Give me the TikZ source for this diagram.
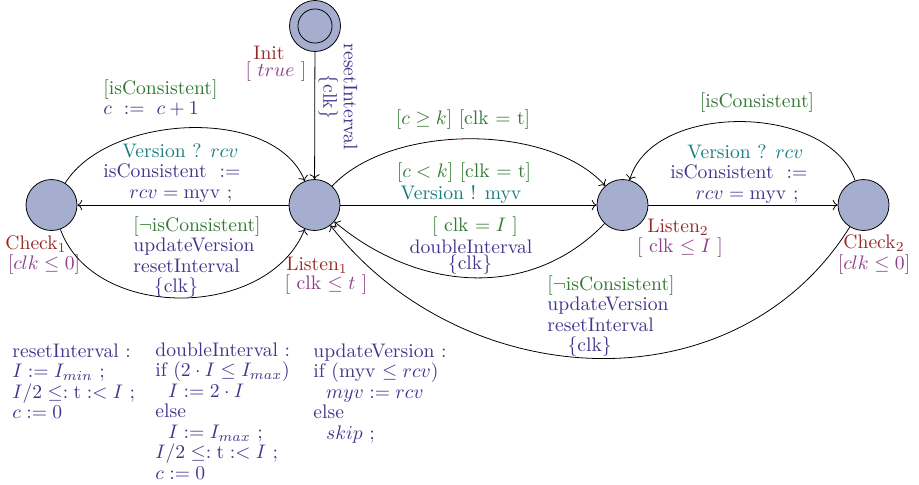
\documentclass[tikz,border=0pt]{standalone}
\usetikzlibrary{arrows.meta}
\definecolor{locfill}{RGB}{166,174,207}
\definecolor{locname}{RGB}{150,40,40}
\definecolor{invar}{RGB}{140,60,140}
\definecolor{guard}{RGB}{50,120,50}
\definecolor{sync}{RGB}{25,125,125}
\definecolor{upd}{RGB}{70,50,140}
\begin{document}
\begin{tikzpicture}[x=0.51pt,y=0.51pt,
  loc/.style={circle,draw,fill=locfill,minimum size=26pt,inner sep=0pt},
  edge/.style={->},
  lab/.style={inner sep=0pt,font=\fontsize{10}{10.5}\selectfont},
  blk/.style={lab,align=left,anchor=north west},
  nm/.style={lab,text=locname},
  inv/.style={lab,text=invar},
  grd/.style={lab,text=guard},
  syn/.style={lab,text=sync},
  up/.style={lab,text=upd}]
\useasboundingbox (0,0) rectangle (919,-484);
% locations
\node[loc] (init) at (315,-26) {};
\node[draw,circle,minimum size=17.4pt,inner sep=0pt] (initin) at (init) {};
\node[loc] (c1) at (51.5,-205) {};
\node[loc] (l1) at (314.5,-205) {};
\node[loc] (l2) at (622.5,-205) {};
\node[loc] (c2) at (863.5,-205) {};
% location labels
\node[nm] (initname) at (269,-53) {Init};
\node[inv] (initinv) at (276,-72) {[ $true$ ]};
\node[nm] (c1name) at (36,-244) {Check$_1$};
\node[inv] (c1inv) at (44,-265) {[$clk \leq 0$]};
\node[nm] (l1name) at (317,-265) {Listen$_1$};
\node[inv] (l1inv) at (326,-285) {[ clk $\leq t$ ]};
\node[nm] (l2name) at (678,-227) {Listen$_2$};
\node[inv] (l2inv) at (680,-248) {[ clk $\leq I$ ]};
\node[nm] (c2name) at (874,-243) {Check$_2$};
\node[inv] (c2inv) at (874,-265) {[$clk \leq 0$]};
% edges
\draw[edge] (init) -- (l1);
\draw[edge] (l1) -- (c1);
\draw[edge] (c1) to[out=58,in=112,looseness=0.87] (l1);
\draw[edge] (c1) to[out=-70,in=-112,looseness=1.03] (l1);
\draw[edge] (l1) to[out=47,in=132,looseness=0.8] (l2);
\draw[edge] (l1) -- (l2);
\draw[edge] (l2) to[out=-134,in=-40,looseness=1.02] (l1);
\draw[edge] (l2) -- (c2);
\draw[edge] (c2) to[out=109,in=74,looseness=0.93] (l2);
\draw[edge] (c2) to[out=-122,in=-52,looseness=1.06] (l1);
% edge labels
\node[up,align=center,rotate=-90] (initlab) at (338,-97) {resetInterval\\\{clk\}};
\node[blk,text=upd] (c1top) at (103,-79) {\textcolor{guard}{[isConsistent]}\\$c\ :=\ c+1$};
\node[blk,text=upd] (c1mid) at (103,-143) {\hspace*{9.7pt}\textcolor{sync}{Version ? $rcv$}\\isConsistent\ \ $:=$\\\hspace*{13.3pt}$rcv = \mathrm{myv}$ ;};
\node[blk,text=upd] (c1bot) at (133,-216) {\textcolor{guard}{[$\neg$isConsistent]}\\updateVersion\\resetInterval\\\hspace*{10.5pt}\{clk\}};
\node[grd] (l12top) at (463,-120) {[$c \geq k$] [clk $=$ t]};
\node[grd] (l12mid) at (464,-173) {[$c < k$] [clk $=$ t]};
\node[syn] (l12sync) at (461,-194) {Version ! myv};
\node[grd] (l21g) at (475,-227) {[ clk $= I$ ]};
\node[up] (l21u) at (471,-247) {doubleInterval};
\node[up] (l21r) at (470,-265) {\{clk\}};
\node[grd] (c2top) at (757,-103) {[isConsistent]};
\node[blk,text=upd] (l2mid) at (670,-144) {\hspace*{8.7pt}\textcolor{sync}{Version ? $rcv$}\\isConsistent\ \ $:=$\\\hspace*{12.8pt}$rcv = \mathrm{myv}$ ;};
\node[blk,text=upd] (c2bot) at (547,-275) {\textcolor{guard}{[$\neg$isConsistent]}\\updateVersion\\resetInterval\\\hspace*{10.3pt}\{clk\}};
% function blocks
\node[blk,text=upd] (fri) at (12,-343) {resetInterval :\\$I := I_{min}$ ;\\$I/2 \leq: \mathrm{t} :< I$ ;\\$c := 0$};
\node[blk,text=upd] (fdi) at (155,-342) {doubleInterval :\\if $(2\cdot I \leq I_{max})$\\\hspace*{6.5pt}$I := 2\cdot I$\\else\\\hspace*{6.5pt}$I := I_{max}$ ;\\$I/2 \leq: \mathrm{t} :< I$ ;\\$c := 0$};
\node[blk,text=upd] (fuv) at (313,-343) {updateVersion :\\if (myv $\leq rcv$)\\\hspace*{6.5pt}$myv := rcv$\\else\\\hspace*{6.5pt}$skip$ ;};
\end{tikzpicture}
\end{document}
